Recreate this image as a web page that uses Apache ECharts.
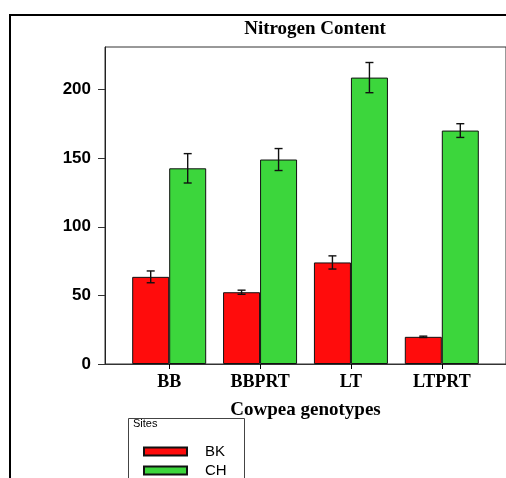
<!DOCTYPE html>
<html><head><meta charset="utf-8">
<script src="https://cdn.jsdelivr.net/npm/echarts@6/dist/echarts.min.js"></script>
<style>html,body{margin:0;padding:0;background:#fff}#c{width:506px;height:478px}</style>
</head><body><div id="c"></div>
<script>
var categories = ['BB', 'BBPRT', 'LT', 'LTPRT'];
var bkMean = [63.5, 52.3, 74.0, 19.8];
var bkErr = [4.3, 1.5, 4.8, 0.5];
var chMean = [142.6, 149.0, 208.7, 170.1];
var chErr = [10.7, 8.0, 11.0, 5.0];
var yTicks = [0, 50, 100, 150, 200];

var pos = categories.map(function (c, i) { return i + 1; });
function pairs(vals) { return vals.map(function (v, i) { return [pos[i], v]; }); }
function errs(vals, e) { return vals.map(function (v, i) { return [pos[i], v - e[i], v + e[i]]; }); }

var RED = '#ff0c0c', GREEN = '#3cd63c';
var BARW = 37;

function errRender(shift) {
  return function (params, api) {
    var x = api.value(0);
    var lo = api.coord([x, api.value(1)]);
    var hi = api.coord([x, api.value(2)]);
    var cx = lo[0] + shift, cap = 4;
    var st = { stroke: '#111', lineWidth: 1.4 };
    return { type: 'group', children: [
      { type: 'line', shape: { x1: cx, y1: lo[1], x2: cx, y2: hi[1] }, style: st },
      { type: 'line', shape: { x1: cx - cap, y1: lo[1], x2: cx + cap, y2: lo[1] }, style: st },
      { type: 'line', shape: { x1: cx - cap, y1: hi[1], x2: cx + cap, y2: hi[1] }, style: st }
    ] };
  };
}

var chart = echarts.init(document.getElementById('c'), null, { renderer: 'canvas' });
var xMin = 1 - 65 / 92;
var xMax = xMin + 406 / 92;
chart.setOption({
  animation: false,
  backgroundColor: '#fff',
  title: {
    text: 'Nitrogen Content', left: 310, top: 15, textAlign: 'center',
    textStyle: { fontFamily: 'Liberation Serif', fontWeight: 'bold', fontSize: 19, color: '#000' }
  },
  grid: { left: 105, right: -5, top: 47, bottom: 114, show: true, borderColor: '#333', borderWidth: 1, backgroundColor: 'transparent' },
  legend: {
    orient: 'vertical', left: 143, top: 444, padding: 0, itemWidth: 43, itemHeight: 8, itemGap: 4,
    icon: 'rect',
    data: ['BK', 'CH'],
    textStyle: { fontFamily: 'Liberation Sans', fontSize: 15, color: '#000', padding: [0, 0, 0, 13], lineHeight: 14 }
  },
  xAxis: {
    type: 'value', min: xMin, max: xMax,
    splitLine: { show: false },
    axisLine: { show: true, lineStyle: { color: '#333', width: 1 } },
    axisTick: { show: true, length: 5, customValues: pos, lineStyle: { color: '#000', width: 1 } },
    axisLabel: {
      customValues: pos, margin: 9,
      formatter: function (v) { return categories[Math.round(v) - 1] || ''; },
      fontFamily: 'Liberation Serif', fontWeight: 'bold', fontSize: 18, color: '#000'
    },
    name: 'Cowpea genotypes', nameLocation: 'middle', nameGap: 37,
    nameTextStyle: { fontFamily: 'Liberation Serif', fontWeight: 'bold', fontSize: 19, color: '#000' }
  },
  yAxis: {
    type: 'value', min: 0, max: 231, interval: 50,
    splitLine: { show: false },
    axisLine: { show: true, lineStyle: { color: '#222', width: 1 } },
    axisTick: { show: true, length: 7, customValues: yTicks, lineStyle: { color: '#333' } },
    axisLabel: { customValues: yTicks, margin: 14, fontFamily: 'Liberation Sans', fontWeight: 'bold', fontSize: 17, color: '#000' }
  },
  series: [
    { name: 'BK', type: 'bar', data: pairs(bkMean), barWidth: BARW, barGap: '0%',
      itemStyle: { color: RED, borderColor: '#111', borderWidth: 1 } },
    { name: 'CH', type: 'bar', data: pairs(chMean), barWidth: BARW, barGap: '0%',
      itemStyle: { color: GREEN, borderColor: '#111', borderWidth: 1 } },
    { type: 'custom', data: errs(bkMean, bkErr), renderItem: errRender(-BARW / 2), encode: { x: 0, y: [1, 2] }, z: 5 },
    { type: 'custom', data: errs(chMean, chErr), renderItem: errRender(BARW / 2), encode: { x: 0, y: [1, 2] }, z: 5 }
  ],
  graphic: [
    { type: 'rect', shape: { x: 10, y: 15, width: 700, height: 700 }, style: { fill: null, stroke: '#000', lineWidth: 2 }, silent: true },
    { type: 'rect', shape: { x: 128.5, y: 418.5, width: 116, height: 200 }, style: { fill: null, stroke: '#444', lineWidth: 1 }, silent: true },
    { type: 'text', x: 133, y: 418, style: { text: 'Sites', font: '11px "Liberation Sans"', fill: '#000' }, silent: true }
  ]
});
</script></body></html>
